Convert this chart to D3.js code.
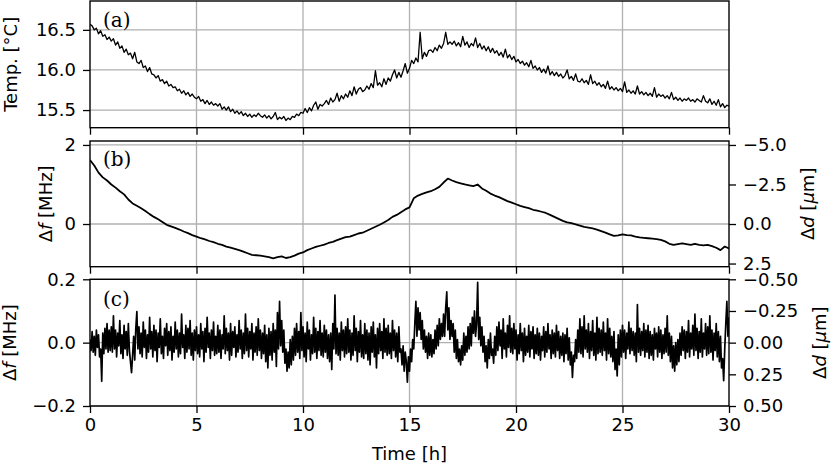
<!DOCTYPE html>
<html>
<head>
<meta charset="utf-8">
<script src="https://cdn.jsdelivr.net/npm/d3@7"></script>
<style>
  body { margin: 0; background: #fff; }
  text { font-family: "DejaVu Sans", sans-serif; }
</style>
</head>
<body>
<div id="chart"></div>
<script>

// ---- data ----
var timeTicks = [0, 5, 10, 15, 20, 25, 30];

// (a) temperature, one sample every 0.1 h
var tempC = [
  16.57,16.55,16.50,16.52,16.45,16.49,16.42,16.44,16.38,16.41,
  16.36,16.39,16.31,16.35,16.27,16.30,16.22,16.26,16.19,16.21,
  16.14,16.22,16.10,16.08,16.12,16.03,16.05,15.98,16.03,15.95,
  15.94,15.90,15.93,15.86,15.88,15.83,15.86,15.80,15.82,15.78,
  15.79,15.74,15.76,15.71,15.74,15.69,15.72,15.67,15.70,15.66,
  15.64,15.67,15.61,15.63,15.58,15.62,15.57,15.60,15.56,15.58,
  15.55,15.58,15.51,15.54,15.50,15.54,15.48,15.51,15.46,15.49,
  15.45,15.48,15.43,15.46,15.42,15.45,15.41,15.44,15.42,15.46,
  15.43,15.41,15.44,15.40,15.43,15.39,15.42,15.47,15.38,15.41,
  15.39,15.42,15.37,15.40,15.38,15.42,15.41,15.45,15.43,15.47,
  15.46,15.52,15.47,15.53,15.49,15.56,15.60,15.51,15.57,15.55,
  15.58,15.62,15.57,15.65,15.60,15.63,15.71,15.61,15.68,15.64,
  15.70,15.66,15.74,15.68,15.79,15.70,15.76,15.78,15.73,15.75,
  15.80,15.76,15.83,15.78,15.99,15.81,15.84,15.79,15.89,15.82,
  15.90,15.86,15.94,16.00,15.90,15.97,15.91,15.99,16.08,15.96,
  16.02,16.12,16.08,16.15,16.10,16.47,16.14,16.22,16.17,16.24,
  16.25,16.22,16.28,16.24,16.31,16.27,16.33,16.47,16.32,16.35,
  16.32,16.36,16.30,16.34,16.29,16.42,16.31,16.35,16.28,16.33,
  16.30,16.40,16.28,16.33,16.26,16.30,16.24,16.29,16.22,16.27,
  16.21,16.24,16.18,16.22,16.16,16.26,16.15,16.19,16.13,16.17,
  16.10,16.13,16.08,16.11,16.06,16.09,16.04,16.12,16.02,16.05,
  16.00,16.03,15.97,16.01,15.96,16.05,15.94,15.98,15.93,15.97,
  15.92,15.95,15.90,15.93,16.00,15.89,15.92,15.87,15.95,15.86,
  15.85,15.89,15.84,15.87,15.82,15.94,15.83,15.86,15.81,15.84,
  15.79,15.82,15.77,15.86,15.76,15.79,15.75,15.78,15.74,15.77,
  15.73,15.85,15.72,15.75,15.71,15.74,15.70,15.80,15.70,15.73,
  15.69,15.72,15.68,15.71,15.67,15.78,15.66,15.70,15.67,15.69,
  15.65,15.68,15.64,15.72,15.63,15.66,15.62,15.65,15.61,15.64,
  15.62,15.65,15.61,15.63,15.60,15.64,15.62,15.60,15.68,15.61,
  15.59,15.64,15.57,15.61,15.56,15.63,15.54,15.58,15.53,15.56,
  15.55
];

// (b) frequency shift, one sample every 0.2 h
var dfMHz = [
  1.62,1.48,1.30,1.18,1.10,1.00,0.92,0.83,0.75,0.62,
  0.52,0.46,0.40,0.33,0.25,0.18,0.12,0.05,-0.02,-0.06,
  -0.10,-0.14,-0.19,-0.23,-0.28,-0.32,-0.36,-0.39,-0.43,-0.46,
  -0.50,-0.53,-0.57,-0.60,-0.63,-0.66,-0.70,-0.74,-0.78,-0.79,
  -0.80,-0.82,-0.84,-0.87,-0.84,-0.82,-0.86,-0.84,-0.80,-0.75,
  -0.72,-0.66,-0.62,-0.58,-0.55,-0.52,-0.48,-0.45,-0.41,-0.37,
  -0.33,-0.32,-0.28,-0.24,-0.22,-0.17,-0.12,-0.07,-0.02,0.04,
  0.10,0.18,0.23,0.30,0.37,0.42,0.65,0.72,0.76,0.80,
  0.83,0.88,0.94,1.05,1.15,1.10,1.06,1.03,1.00,0.98,
  0.96,1.00,0.90,0.84,0.77,0.72,0.68,0.63,0.58,0.54,
  0.50,0.46,0.43,0.40,0.36,0.34,0.31,0.28,0.23,0.18,
  0.13,0.08,0.04,0.02,-0.01,-0.04,-0.07,-0.09,-0.11,-0.14,
  -0.18,-0.22,-0.26,-0.30,-0.29,-0.26,-0.28,-0.29,-0.32,-0.34,
  -0.35,-0.36,-0.37,-0.38,-0.40,-0.44,-0.50,-0.53,-0.51,-0.49,
  -0.51,-0.53,-0.50,-0.53,-0.54,-0.53,-0.56,-0.60,-0.66,-0.57,
  -0.62
];

// (c) residual frequency shift in kHz, one sample every 0.05 h
var dfResidKHz = [
  10,-25,35,-30,20,-40,40,-15,25,-45,-20,-122,30,-35,45,-20,60,-30,40,-25,
  50,-30,85,-20,40,-45,30,-10,70,-35,25,-50,55,-20,35,-40,60,-25,-60,-95,
  -40,20,-55,45,98,-20,50,-35,30,-45,65,-15,40,-50,25,-30,80,-20,35,-45,
  55,-25,40,-60,30,-15,75,-35,20,-50,45,-10,60,-40,35,-25,50,-55,20,-30,
  65,-20,40,-45,30,-35,90,-15,25,-50,55,-30,45,-20,70,-40,30,-55,40,-25,
  50,-35,25,-45,60,-20,35,-60,45,-30,80,-15,30,-50,40,-25,65,-40,20,-35,
  55,-30,40,-50,25,-20,85,-35,45,-25,30,-55,60,-40,35,-15,50,-45,25,-30,
  70,-20,40,-50,30,-35,90,-25,45,-45,35,-20,60,-55,30,-30,50,-40,75,-25,
  40,-50,30,-35,55,-60,25,-80,45,-40,35,-55,60,-30,40,-75,95,-20,130,-10,
  70,-30,40,-65,-20,-90,-30,-80,10,-70,20,-55,45,-40,60,-30,35,-50,95,-25,
  50,-45,30,-60,65,-20,40,-55,25,-35,80,-30,45,-50,35,-25,70,-40,30,-45,
  55,-30,40,-50,25,-60,30,-85,60,-20,150,-35,45,-40,30,-55,65,-25,40,-45,
  50,-35,75,-30,40,-55,30,-40,85,-25,45,-60,35,-30,70,-45,25,-50,60,-35,
  40,-55,30,-70,50,-30,65,-45,25,-80,45,-35,60,-25,35,-50,75,-30,45,-40,
  55,-35,30,-50,70,-25,40,-45,30,-60,50,-30,-20,-70,-10,-90,-30,-60,-125,-45,
  -90,-20,-60,10,-20,60,130,20,110,40,95,10,70,-20,40,-30,20,-50,30,-40,
  25,-45,10,-35,40,-20,55,-10,75,10,60,20,90,20,110,160,40,110,10,70,
  20,60,-30,40,-50,10,-60,-20,-70,-10,-55,30,-40,20,-30,50,-20,60,-10,80,
  30,100,20,60,190,10,80,-10,50,-30,20,-60,-10,-80,10,-50,30,-40,-20,-65,
  20,-40,50,-25,65,-10,40,-50,75,-20,30,-45,55,-15,85,-30,45,-35,60,-20,
  40,-55,25,-35,60,-25,30,-60,45,-40,20,-30,55,-45,35,-20,50,-50,25,-35,
  45,-40,30,-55,20,-25,50,-45,35,-30,60,-20,25,-50,40,-35,30,-45,55,-25,
  35,-50,20,-40,30,-60,25,-35,45,-55,15,-70,-30,-110,-40,-60,10,-50,40,-30,
  75,-35,50,-45,85,-20,40,-30,60,-50,35,-25,70,-40,30,-55,80,-35,45,-30,
  40,-40,65,-25,30,-55,75,-35,45,-45,20,-60,35,-85,-20,-105,25,-70,40,-45,
  55,-30,40,-50,30,-20,65,-35,45,-25,35,-40,30,-60,120,-30,45,-40,35,-25,
  60,-45,40,-30,55,-50,35,-40,25,-55,45,-20,30,-45,50,-30,40,-50,25,-35,
  45,-30,85,-40,30,-60,20,-80,-10,-90,0,-70,10,-60,30,-40,50,-25,40,-50,
  35,-30,70,-45,30,-20,55,-40,90,-25,45,-50,35,-30,75,-45,30,-20,60,-40,
  50,-35,85,-30,40,-55,30,-25,60,-45,35,-60,20,-80,-50,-120,-20,60,130,20,
  80
];

var tempTicks = [15.5, 16.0, 16.5];
var dfTicks = [0, 2];
var ddTicks = [-5, -2.5, 0, 2.5];
var residTicks = [-0.2, 0, 0.2];
var residDdTicks = [-0.5, -0.25, 0, 0.25, 0.5];

// ---- layout ----
var width = 831, height = 465;
var left = 90, right = 729;

var svg = d3.select("#chart").append("svg")
            .attr("width", width)
            .attr("height", height);

var x = d3.scaleLinear().domain([0, 30]).range([left, right]);

var panels = [
  { id: "a", top: 1, bottom: 127.7, domain: [15.28, 16.86], values: tempC,
    ticks: tempTicks, fmt: d3.format(".1f"), tag: "(a)", tagY: 27,
    label: "Temp. [°C]", labelX: 17, lineWidth: 1.3 },
  { id: "b", top: 141, bottom: 266.7, domain: [-1.08, 2.10], values: dfMHz,
    ticks: dfTicks, fmt: d3.format("d"), tag: "(b)", tagY: 166,
    label: "df", labelX: 52, lineWidth: 1.8,
    rDomain: [2.7, -5.25], rTicks: ddTicks, rFmt: d3.format(".1f"), rLabelX: 814 },
  { id: "c", top: 279.3, bottom: 406, domain: [-0.2, 0.2],
    values: dfResidKHz.map(function(v) { return v / 1000; }),
    ticks: residTicks, fmt: d3.format(".1f"), tag: "(c)", tagY: 306,
    label: "df", labelX: 16, lineWidth: 1.7,
    rDomain: [0.5, -0.5], rTicks: residDdTicks, rFmt: d3.format(".2f"), rLabelX: 826 }
];

panels.forEach(drawPanel);

// shared x tick labels and title on bottom panel
var xAxis = svg.append("g")
               .attr("transform", "translate(0," + panels[2].bottom + ")")
               .call(d3.axisBottom(x).tickValues(timeTicks).tickSize(7).tickPadding(5).tickFormat(d3.format("d")));
styleAxis(xAxis);

svg.append("text")
   .attr("x", (left + right) / 2)
   .attr("y", 460)
   .attr("text-anchor", "middle")
   .style("font-size", "18px")
   .text("Time [h]");


function drawPanel(p) {
  var g = svg.append("g").attr("class", "panel-" + p.id);
  var y = d3.scaleLinear().domain(p.domain).range([p.bottom, p.top]);
  var step = 30 / (p.values.length - 1);

  g.append("clipPath").attr("id", "clip-" + p.id)
   .append("rect")
   .attr("x", left).attr("y", p.top)
   .attr("width", right - left).attr("height", p.bottom - p.top);

  // grid
  g.selectAll(".vgrid").data(timeTicks.slice(1, -1))
   .enter().append("line")
   .attr("x1", function(d) { return x(d); })
   .attr("x2", function(d) { return x(d); })
   .attr("y1", p.top).attr("y2", p.bottom)
   .attr("stroke", "#b0b0b0").attr("stroke-width", 1.3);

  g.selectAll(".hgrid").data(p.ticks)
   .enter().append("line")
   .attr("x1", left).attr("x2", right)
   .attr("y1", function(d) { return y(d); })
   .attr("y2", function(d) { return y(d); })
   .attr("stroke", "#b0b0b0").attr("stroke-width", 1.3);

  var line = d3.line()
               .x(function(d, i) { return x(i * step); })
               .y(function(d) { return y(d); });

  g.append("path").datum(p.values)
   .attr("clip-path", "url(#clip-" + p.id + ")")
   .attr("d", line)
   .attr("fill", "none")
   .attr("stroke", "#000")
   .attr("stroke-width", p.lineWidth)
   .attr("stroke-linejoin", "round");

  // spines
  g.append("rect")
   .attr("x", left).attr("y", p.top)
   .attr("width", right - left).attr("height", p.bottom - p.top)
   .attr("fill", "none").attr("stroke", "#000").attr("stroke-width", 1.4);

  var ax = g.append("g").attr("transform", "translate(" + left + ",0)")
            .call(d3.axisLeft(y).tickValues(p.ticks).tickFormat(p.fmt).tickSize(7).tickPadding(7));
  styleAxis(ax);

  if (p.id != "c") {
    var bx = g.append("g").attr("transform", "translate(0," + p.bottom + ")")
              .call(d3.axisBottom(x).tickValues(timeTicks).tickSize(7).tickFormat(""));
    styleAxis(bx);
  }

  if (p.rDomain) {
    var yr = d3.scaleLinear().domain(p.rDomain).range([p.bottom, p.top]);
    var rx = g.append("g").attr("transform", "translate(" + right + ",0)")
              .call(d3.axisRight(yr).tickValues(p.rTicks).tickFormat(p.rFmt).tickSize(7).tickPadding(7));
    styleAxis(rx);

    var rl = g.append("text")
              .attr("transform", "translate(" + p.rLabelX + "," + ((p.top + p.bottom) / 2) + ") rotate(-90)")
              .attr("text-anchor", "middle")
              .style("font-size", "18px");
    rl.append("tspan").text("Δ");
    rl.append("tspan").style("font-style", "italic").text("d");
    rl.append("tspan").text(" [");
    rl.append("tspan").style("font-style", "italic").text("μ");
    rl.append("tspan").text("m]");
  }

  // left label
  var ll = g.append("text")
            .attr("transform", "translate(" + p.labelX + "," + ((p.top + p.bottom) / 2) + ") rotate(-90)")
            .attr("text-anchor", "middle")
            .style("font-size", "18px");
  if (p.label == "df") {
    ll.append("tspan").text("Δ");
    ll.append("tspan").style("font-style", "italic").text("f");
    ll.append("tspan").text(" [MHz]");
  } else {
    ll.text(p.label);
  }

  // panel tag
  g.append("text")
   .attr("x", 103).attr("y", p.tagY)
   .style("font-family", "'DejaVu Serif', serif")
   .style("font-size", "20px")
   .text(p.tag);
}

function styleAxis(a) {
  a.select(".domain").remove();
  a.selectAll(".tick line").attr("stroke", "#000").attr("stroke-width", 1.3);
  a.selectAll(".tick text")
   .attr("fill", "#000")
   .style("font-family", "'DejaVu Sans', sans-serif")
   .style("font-size", "18px");
}

</script>
</body>
</html>
